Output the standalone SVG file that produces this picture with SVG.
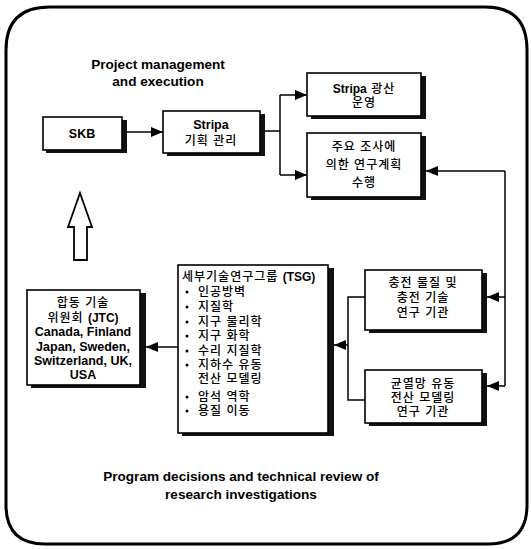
<svg xmlns="http://www.w3.org/2000/svg" width="531" height="549" viewBox="0 0 531 549">
<defs>
<style>
.box{fill:#fff;stroke:#000;stroke-width:1.6}
.sh{fill:#111}
.en{font-family:"Liberation Sans",Arial,sans-serif;font-weight:bold;font-size:12.5px;fill:#000}
.big{font-size:13.6px}
.ko{font-family:"Liberation Sans","Noto Sans CJK KR",sans-serif;font-weight:500;font-size:12px;fill:#000;letter-spacing:1px}
.b{font-weight:bold;letter-spacing:0}
.ln{fill:none;stroke:#000;stroke-width:1.5}
</style>
<marker id="ah" viewBox="0 0 12 10" refX="12" refY="5" markerWidth="12" markerHeight="10" markerUnits="userSpaceOnUse" orient="auto">
<path d="M0,0 L12,5 L0,10 Z" fill="#000"/>
</marker>
</defs>
<rect width="531" height="549" fill="#fff"/>
<path d="M50,7 L485,7 Q527,7 527,50 L527,505 Q527,544 488,544 L45,544 Q6,544 6,505 L6,50 Q6,7 50,7 Z" fill="none" stroke="#000" stroke-width="3"/>

<g id="title" class="en big" text-anchor="middle">
<text x="158" y="69">Project management</text>
<text x="158" y="86">and execution</text>
</g>

<g id="skb">
<rect class="sh" x="122" y="120" width="5" height="33"/>
<rect class="sh" x="46" y="150" width="81" height="3"/>
<rect class="box" x="43" y="117" width="79" height="33"/>
<text class="en" x="82" y="138" text-anchor="middle">SKB</text>
</g>

<g id="stripa-plan">
<rect class="sh" x="260" y="114" width="5" height="42"/>
<rect class="sh" x="167" y="153" width="98" height="3"/>
<rect class="box" x="163" y="111" width="97" height="42"/>
<text class="en" x="211" y="129" text-anchor="middle">Stripa</text>
<text class="ko" x="211" y="145" text-anchor="middle">기획 관리</text>
</g>

<g id="stripa-mine">
<rect class="sh" x="421" y="76" width="5" height="43"/>
<rect class="sh" x="311" y="116" width="115" height="3"/>
<rect class="box" x="307" y="73" width="114" height="43"/>
<text class="ko" x="364" y="93" text-anchor="middle"><tspan class="b">Stripa</tspan> 광산</text>
<text class="ko" x="364" y="107" text-anchor="middle">운영</text>
</g>

<g id="main-plan">
<rect class="sh" x="421" y="136" width="5" height="64"/>
<rect class="sh" x="311" y="197" width="115" height="3"/>
<rect class="box" x="307" y="133" width="114" height="64"/>
<text class="ko" x="364" y="151" text-anchor="middle">주요 조사에</text>
<text class="ko" x="364" y="169" text-anchor="middle">의한 연구계획</text>
<text class="ko" x="364" y="187" text-anchor="middle">수행</text>
</g>

<g id="jtc">
<rect class="sh" x="140" y="293" width="6" height="95"/>
<rect class="sh" x="31" y="385" width="115" height="3"/>
<rect class="box" x="27" y="290" width="113" height="95"/>
<text class="ko" x="83" y="307" text-anchor="middle">합동 기술</text>
<text class="ko" x="83" y="322" text-anchor="middle">위원회 <tspan class="b">(JTC)</tspan></text>
<g class="en" text-anchor="middle">
<text x="83" y="336">Canada, Finland</text>
<text x="83" y="351">Japan, Sweden,</text>
<text x="83" y="365">Switzerland, UK,</text>
<text x="83" y="379">USA</text>
</g>
</g>

<g id="tsg">
<rect class="sh" x="328" y="268" width="6" height="168"/>
<rect class="sh" x="182" y="433" width="152" height="3"/>
<rect class="box" x="178" y="265" width="150" height="168"/>
<text class="ko" x="182" y="281" letter-spacing="0">세부기술연구그룹 <tspan class="b">(TSG)</tspan></text>
<g class="ko">
<text x="198" y="296">인공방벽</text>
<text x="198" y="311">지질학</text>
<text x="198" y="326">지구 물리학</text>
<text x="198" y="340">지구 화학</text>
<text x="198" y="355">수리 지질학</text>
<text x="198" y="369">지하수 유동</text>
<text x="198" y="383">전산 모델링</text>
<text x="198" y="401">암석 역학</text>
<text x="198" y="415">용질 이동</text>
</g>
<g fill="#000">
<circle cx="187" cy="292" r="1.5"/>
<circle cx="187" cy="307" r="1.5"/>
<circle cx="187" cy="322" r="1.5"/>
<circle cx="187" cy="336" r="1.5"/>
<circle cx="187" cy="351" r="1.5"/>
<circle cx="187" cy="365" r="1.5"/>
<circle cx="187" cy="397" r="1.5"/>
<circle cx="187" cy="411" r="1.5"/>
</g>
</g>

<g id="backfill">
<rect class="sh" x="482" y="273" width="5" height="60"/>
<rect class="sh" x="369" y="330" width="118" height="3"/>
<rect class="box" x="365" y="270" width="117" height="60"/>
<text class="ko" x="423" y="287" text-anchor="middle">충전 물질 및</text>
<text class="ko" x="423" y="302" text-anchor="middle">충전 기술</text>
<text class="ko" x="423" y="317" text-anchor="middle">연구 기관</text>
</g>

<g id="fracture">
<rect class="sh" x="482" y="373" width="5" height="53"/>
<rect class="sh" x="369" y="423" width="118" height="3"/>
<rect class="box" x="365" y="370" width="117" height="53"/>
<text class="ko" x="423" y="388" text-anchor="middle">균열망 유동</text>
<text class="ko" x="423" y="402" text-anchor="middle">전산 모델링</text>
<text class="ko" x="423" y="416" text-anchor="middle">연구 기관</text>
</g>

<g id="hollow-arrow">
<polygon points="80,193 92,227 87,227 87,260 74,260 74,227 68,227" fill="#fff" stroke="#000" stroke-width="1.8" stroke-linejoin="miter"/>
</g>

<g id="connectors">
<path class="ln" d="M127,132 H163" marker-end="url(#ah)"/>
<path class="ln" d="M265,131 H280"/>
<path class="ln" d="M280,95 V175"/>
<path class="ln" d="M280,95 H307" marker-end="url(#ah)"/>
<path class="ln" d="M280,175 H307" marker-end="url(#ah)"/>
<path class="ln" d="M505,171 V386"/>
<path class="ln" d="M505,171 H426" marker-end="url(#ah)"/>
<path class="ln" d="M505,297 H487" marker-end="url(#ah)"/>
<path class="ln" d="M505,386 H487" marker-end="url(#ah)"/>
<path class="ln" d="M365,297 H348 V400 H365"/>
<path class="ln" d="M348,345 H334" marker-end="url(#ah)"/>
<path class="ln" d="M178,347 H146" marker-end="url(#ah)"/>
</g>

<g id="footer" class="en big" text-anchor="middle">
<text x="241" y="481">Program decisions and technical review of</text>
<text x="241" y="499">research investigations</text>
</g>
</svg>
